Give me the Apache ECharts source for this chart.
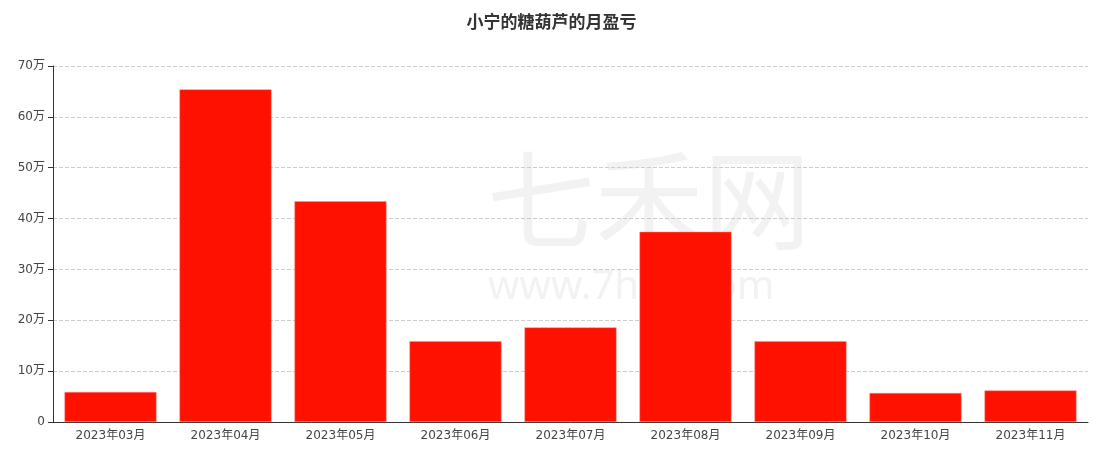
<!DOCTYPE html>
<html>
<head>
<meta charset="utf-8">
<script src="https://cdn.jsdelivr.net/npm/echarts@6/dist/echarts.min.js"></script>
<style>html,body{margin:0;padding:0;background:#fff;}#main{width:1103px;height:451px;}</style>
</head>
<body>
<div id="main"></div>
<script>
var titleText = '小宁的糖葫芦的月盈亏';
var categories = ['2023年03月','2023年04月','2023年05月','2023年06月','2023年07月','2023年08月','2023年09月','2023年10月','2023年11月'];
var values = [5.9, 65.4, 43.4, 15.9, 18.6, 37.4, 15.9, 5.7, 6.2];
var yTicks = [0, 10, 20, 30, 40, 50, 60, 70];

var labelFont = "'DejaVu Sans', 'Noto Sans CJK SC', sans-serif";
var chart = echarts.init(document.getElementById('main'));
chart.setOption({
  animation: false,
  title: {
    text: titleText, left: 'center', top: 8,
    textStyle: { fontSize: 17, fontWeight: 'bold', color: '#333', fontFamily: 'Noto Sans CJK SC' }
  },
  graphic: [
    { type: 'text', left: 487, top: 146, z: -10, silent: true,
      style: { text: '七禾网', fontSize: 108, fontFamily: 'Noto Sans CJK SC', fill: '#f2f2f2' } },
    { type: 'text', left: 488, top: 268, z: -10, silent: true,
      style: { text: 'www.7hcn.com', fontSize: 40, fontFamily: 'Noto Sans', fill: '#f2f2f2' } }
  ],
  grid: { left: 53, right: 15, top: 66, bottom: 29, containLabel: false },
  xAxis: {
    type: 'category', data: categories,
    axisLine: { lineStyle: { color: '#333' } },
    axisTick: { alignWithLabel: true, lineStyle: { color: '#333' } },
    axisLabel: { color: '#444', fontSize: 12, fontFamily: labelFont, margin: 8 }
  },
  yAxis: {
    type: 'value', min: yTicks[0], max: yTicks[yTicks.length - 1], interval: 10,
    axisLine: { show: true, lineStyle: { color: '#333' } },
    axisTick: { show: true, lineStyle: { color: '#333' } },
    axisLabel: { color: '#444', fontSize: 12, fontFamily: labelFont,
      formatter: function (v) { return v === 0 ? '0' : v + '万'; } },
    splitLine: { lineStyle: { type: 'dashed', color: '#ccc' } }
  },
  series: [{
    type: 'bar', data: values, barWidth: '80%',
    itemStyle: { color: '#ff1100', borderColor: '#ff8a80', borderWidth: 0.5 }
  }]
});
</script>
</body>
</html>
